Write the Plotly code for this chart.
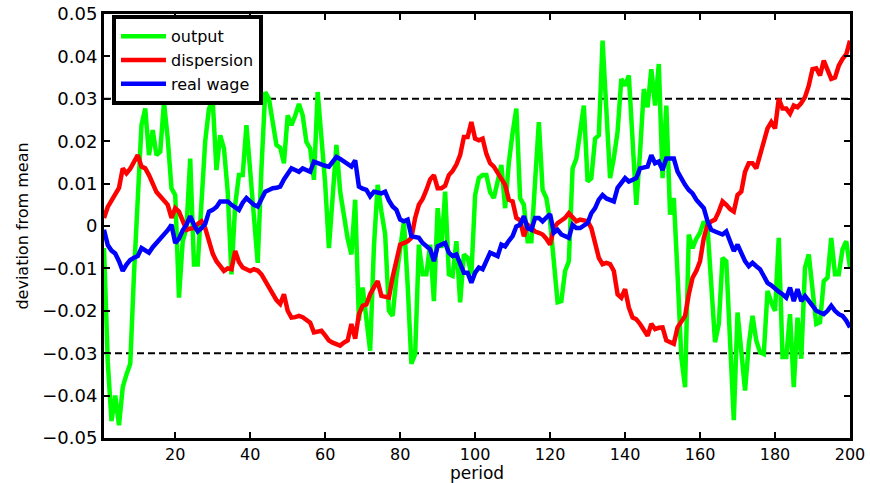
import plotly.graph_objects as go

periods = list(range(1, 201))

output = [
    -0.0052, -0.0320, -0.0460, -0.0400, -0.0470, -0.0380, -0.0350, -0.0325, -0.0114, 0.0073,
    0.0238, 0.0277, 0.0167, 0.0226, 0.0167, 0.0175, 0.0292, 0.0206, 0.0089, 0.0073,
    -0.0169, -0.0036, -0.0005, 0.0159, -0.0091, -0.0091, 0.0058, 0.0200, 0.0277, 0.0296,
    0.0132, 0.0214, 0.0183, 0.0081, -0.0114, 0.0050, 0.0120, 0.0120, 0.0238, 0.0136,
    0.0020, -0.0087, 0.0136, 0.0316, 0.0300, 0.0250, 0.0191, 0.0185, 0.0148, 0.0261,
    0.0238, 0.0260, 0.0288, 0.0261, 0.0198, 0.0183, 0.0109, 0.0316, 0.0220, 0.0100,
    -0.0052, 0.0080, 0.0191, 0.0081, 0.0020, -0.0030, -0.0067, 0.0062, -0.0223, -0.0145,
    -0.0220, -0.0294, -0.0050, 0.0097, 0.0034, -0.0020, -0.0200, -0.0212, -0.0120, -0.0050,
    0.0011, -0.0138, -0.0325, -0.0302, -0.0044, -0.0114, -0.0114, -0.0044, -0.0177, 0.0042,
    -0.0052, 0.0081, -0.0114, -0.0118, -0.0036, -0.0180, -0.0067, -0.0075, -0.0114, 0.0073,
    0.0113, 0.0120, 0.0120, 0.0080, 0.0066, 0.0105, 0.0144, 0.0042, 0.0150, 0.0220,
    0.0277, 0.0066, 0.0050, -0.0036, -0.0036, 0.0105, 0.0245, 0.0085, 0.0066, 0.0011,
    -0.0098, -0.0180, -0.0177, -0.0106, -0.0083, 0.0136, 0.0159, 0.0222, 0.0284, 0.0105,
    0.0113, 0.0206, 0.0214, 0.0437, 0.0284, 0.0113, 0.0160, 0.0222, 0.0347, 0.0331,
    0.0355, 0.0183, 0.0050, 0.0175, 0.0323, 0.0280, 0.0370, 0.0284, 0.0382, 0.0113,
    0.0284, 0.0027, 0.0066, -0.0114, -0.0309, -0.0380, -0.0020, -0.0052, -0.0030, -0.0016,
    0.0011, -0.0005, -0.0150, -0.0274, -0.0231, -0.0075, -0.0083, -0.0250, -0.0458, -0.0204,
    -0.0300, -0.0388, -0.0280, -0.0212, -0.0270, -0.0298, -0.0302, -0.0153, -0.0180, -0.0200,
    -0.0028, -0.0309, -0.0309, -0.0208, -0.0380, -0.0216, -0.0313, -0.0098, -0.0067, -0.0161,
    -0.0231, -0.0227, -0.0130, -0.0122, -0.0028, -0.0114, -0.0114, -0.0055, -0.0036, -0.0098,
]

dispersion = [
    0.0019, 0.0045, 0.0060, 0.0075, 0.0090, 0.0136, 0.0124, 0.0135, 0.0150, 0.0167,
    0.0140, 0.0136, 0.0120, 0.0100, 0.0080, 0.0070, 0.0060, 0.0050, 0.0019, 0.0042,
    0.0034, 0.0015, -0.0009, -0.0006, -0.0005, 0.0005, 0.0011, -0.0005, -0.0036, -0.0065,
    -0.0083, -0.0095, -0.0106, -0.0100, -0.0102, -0.0059, -0.0085, -0.0098, -0.0103, -0.0106,
    -0.0102, -0.0105, -0.0114, -0.0130, -0.0145, -0.0160, -0.0175, -0.0184, -0.0161, -0.0200,
    -0.0216, -0.0215, -0.0212, -0.0215, -0.0220, -0.0228, -0.0251, -0.0248, -0.0247, -0.0258,
    -0.0270, -0.0275, -0.0280, -0.0282, -0.0275, -0.0270, -0.0231, -0.0266, -0.0208, -0.0188,
    -0.0185, -0.0161, -0.0145, -0.0130, -0.0165, -0.0168, -0.0169, -0.0120, -0.0080, -0.0044,
    -0.0040, -0.0036, -0.0028, 0.0019, 0.0050, 0.0064, 0.0085, 0.0110, 0.0120, 0.0089,
    0.0089, 0.0095, 0.0120, 0.0130, 0.0145, 0.0167, 0.0210, 0.0210, 0.0245, 0.0206,
    0.0202, 0.0206, 0.0170, 0.0148, 0.0140, 0.0125, 0.0113, 0.0097, 0.0062, 0.0058,
    0.0019, 0.0013, -0.0024, 0.0003, -0.0005, -0.0013, -0.0016, -0.0020, -0.0030, -0.0044,
    -0.0005, 0.0007, 0.0013, 0.0019, 0.0030, 0.0020, 0.0011, 0.0015, 0.0013, 0.0011,
    -0.0005, -0.0036, -0.0075, -0.0090, -0.0087, -0.0090, -0.0106, -0.0161, -0.0169, -0.0149,
    -0.0192, -0.0216, -0.0220, -0.0231, -0.0243, -0.0259, -0.0231, -0.0243, -0.0240, -0.0239,
    -0.0270, -0.0274, -0.0278, -0.0239, -0.0227, -0.0212, -0.0161, -0.0122, -0.0106, -0.0083,
    -0.0028, 0.0003, 0.0011, 0.0015, 0.0034, 0.0058, 0.0050, 0.0040, 0.0034, 0.0073,
    0.0081, 0.0128, 0.0148, 0.0148, 0.0136, 0.0167, 0.0191, 0.0230, 0.0245, 0.0230,
    0.0300, 0.0277, 0.0277, 0.0265, 0.0284, 0.0280, 0.0290, 0.0304, 0.0331, 0.0370,
    0.0372, 0.0355, 0.0390, 0.0366, 0.0347, 0.0350, 0.0378, 0.0394, 0.0405, 0.0437,
]

real_wage = [
    -0.0009, -0.0045, -0.0058, -0.0065, -0.0083, -0.0106, -0.0091, -0.0080, -0.0075, -0.0071,
    -0.0052, -0.0058, -0.0063, -0.0050, -0.0040, -0.0032, -0.0023, -0.0010, 0.0003, -0.0040,
    -0.0030, -0.0010, 0.0003, 0.0023, 0.0003, -0.0013, -0.0005, 0.0005, 0.0034, 0.0038,
    0.0045, 0.0058, 0.0058, 0.0058, 0.0050, 0.0045, 0.0038, 0.0055, 0.0066, 0.0058,
    0.0050, 0.0046, 0.0065, 0.0081, 0.0085, 0.0089, 0.0090, 0.0093, 0.0110, 0.0125,
    0.0136, 0.0132, 0.0128, 0.0136, 0.0132, 0.0128, 0.0152, 0.0148, 0.0144, 0.0142,
    0.0140, 0.0150, 0.0163, 0.0158, 0.0152, 0.0145, 0.0140, 0.0155, 0.0093, 0.0088,
    0.0085, 0.0070, 0.0081, 0.0079, 0.0077, 0.0081, 0.0060, 0.0046, 0.0038, 0.0015,
    0.0011, 0.0015, -0.0024, -0.0026, -0.0028, -0.0040, -0.0048, -0.0055, -0.0083, -0.0048,
    -0.0044, -0.0040, -0.0063, -0.0071, -0.0067, -0.0090, -0.0110, -0.0110, -0.0134, -0.0110,
    -0.0098, -0.0102, -0.0080, -0.0063, -0.0067, -0.0071, -0.0044, -0.0048, -0.0035, -0.0024,
    -0.0001, 0.0003, 0.0023, -0.0005, -0.0009, 0.0019, 0.0019, 0.0011, 0.0020, 0.0028,
    -0.0016, -0.0009, -0.0020, -0.0024, -0.0028, 0.0003, -0.0005, -0.0005, 0.0002, 0.0007,
    0.0030, 0.0042, 0.0062, 0.0073, 0.0065, 0.0060, 0.0058, 0.0090, 0.0101, 0.0113,
    0.0105, 0.0110, 0.0113, 0.0136, 0.0138, 0.0140, 0.0167, 0.0148, 0.0152, 0.0132,
    0.0159, 0.0159, 0.0159, 0.0128, 0.0110, 0.0097, 0.0085, 0.0077, 0.0062, 0.0050,
    0.0042, 0.0011, -0.0009, -0.0013, -0.0016, -0.0020, -0.0013, -0.0036, -0.0059, -0.0044,
    -0.0065, -0.0083, -0.0095, -0.0087, -0.0095, -0.0102, -0.0118, -0.0134, -0.0140, -0.0149,
    -0.0155, -0.0161, -0.0169, -0.0145, -0.0177, -0.0149, -0.0177, -0.0165, -0.0175, -0.0188,
    -0.0200, -0.0204, -0.0208, -0.0200, -0.0188, -0.0200, -0.0208, -0.0212, -0.0223, -0.0239,
]

series_names = ["output", "dispersion", "real wage"]
series_colors = ["#00FF00", "#FF0000", "#0000FF"]
band_levels = [0.03, -0.03]

x_ticks = [20, 40, 60, 80, 100, 120, 140, 160, 180, 200]
y_ticks = [0.05, 0.04, 0.03, 0.02, 0.01, 0.0, -0.01, -0.02, -0.03, -0.04, -0.05]
y_ticktext = ["0.05", "0.04", "0.03", "0.02", "0.01", "0",
              "\u22120.01", "\u22120.02", "\u22120.03", "\u22120.04", "\u22120.05"]

FONT = "DejaVu Sans, Liberation Sans, Arial, sans-serif"

fig = go.Figure()

for lvl in band_levels:
    fig.add_trace(go.Scatter(
        x=[periods[0], periods[-1]], y=[lvl, lvl], mode="lines",
        line=dict(color="black", width=2, dash="7px,4px"),
        showlegend=False, hoverinfo="skip",
    ))

for name, color, vals in zip(series_names, series_colors, [output, dispersion, real_wage]):
    fig.add_trace(go.Scatter(
        x=periods, y=vals, mode="lines", name=name,
        line=dict(color=color, width=4.5),
    ))

fig.update_layout(
    width=870, height=483,
    margin=dict(l=104, r=20, t=14, b=45, autoexpand=False),
    paper_bgcolor="white", plot_bgcolor="white",
    font=dict(family=FONT, size=18, color="black"),
    legend=dict(
        x=0.0107, y=0.997, xanchor="left", yanchor="top",
        bgcolor="white", bordercolor="black", borderwidth=4,
        font=dict(family=FONT, size=16, color="black"),
        itemwidth=45, tracegroupgap=0,
    ),
)

fig.update_xaxes(
    range=[1, 200], tickvals=x_ticks, ticks="inside", ticklen=6, tickwidth=2,
    tickcolor="black", showline=True, linecolor="black", linewidth=3, mirror="ticks",
    showgrid=False, zeroline=False, automargin=False, ticklabelstandoff=0,
    title=dict(text="period", font=dict(family=FONT, size=17), standoff=4),
    tickfont=dict(family=FONT, size=16),
)
fig.update_yaxes(
    range=[-0.05, 0.05], tickvals=y_ticks, ticktext=y_ticktext, ticks="inside",
    ticklen=6, tickwidth=2, tickcolor="black", showline=True, linecolor="black",
    linewidth=3, mirror="ticks", showgrid=False, zeroline=False, automargin=False,
    title=dict(text="deviation from mean", font=dict(family=FONT, size=16), standoff=10),
    tickfont=dict(family=FONT, size=18),
)

fig.write_html(
    "out.html",
    config={"displayModeBar": False},
    post_script="document.body.style.margin='0';document.body.style.padding='0';",
)
